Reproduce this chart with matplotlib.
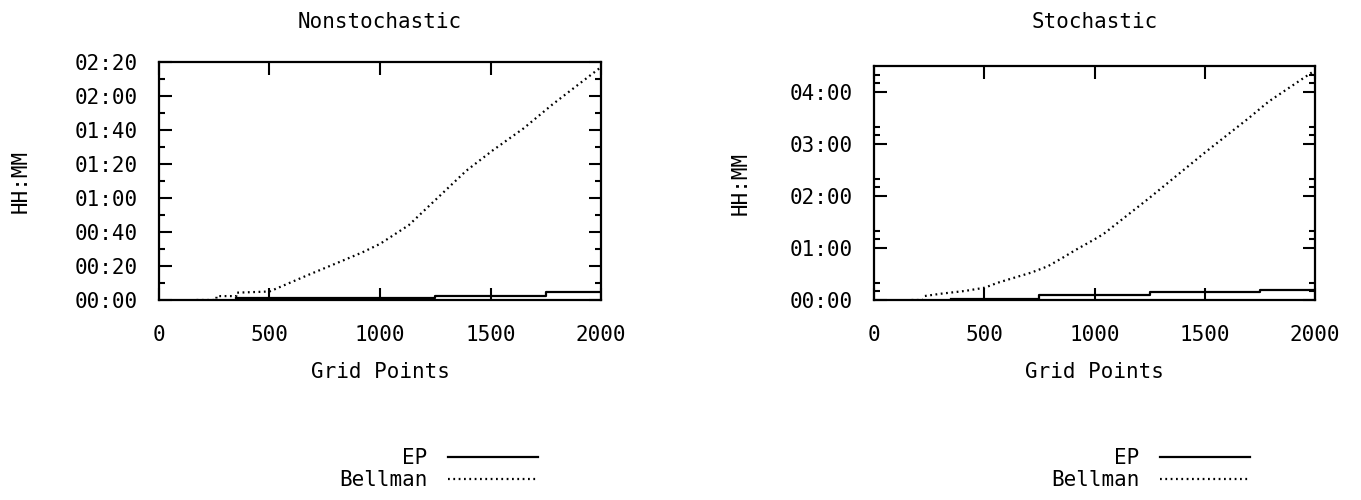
import matplotlib
matplotlib.use("Agg")
import matplotlib.pyplot as plt
from matplotlib.ticker import FixedLocator, FuncFormatter
from matplotlib.lines import Line2D

plt.rcParams['font.family'] = ['DejaVu Sans Mono']
plt.rcParams['font.size'] = 15

# Nonstochastic (minutes)
ns_ep_x = [350, 1250, 1750, 2000]
ns_ep_y = [1, 2.5, 4.5, 4.5]
ns_bell_x = [170, 260, 260, 350, 350, 500, 680, 810, 920, 1000, 1130, 1260, 1390, 1510, 1650, 1780, 2000]
ns_bell_y = [0, 0, 2.3, 2.3, 4.3, 5, 15, 22, 28, 33, 44, 60, 76, 88, 101, 115, 137]

# Stochastic (minutes)
st_ep_x = [350, 750, 1250, 1750, 2000]
st_ep_y = [1.2, 5.4, 9.2, 11.5, 11.5]
st_bell_x = [170, 222, 230, 305, 411, 502, 562, 637, 713, 789, 864, 909, 1000, 1040, 1250, 1500, 1700, 1790, 2000]
st_bell_y = [0, 0, 4.6, 7.3, 10.4, 14.2, 20, 25.8, 31.6, 39, 50, 57, 70, 76, 118, 170, 210, 229, 265]

x_ticks = [0, 500, 1000, 1500, 2000]
ns_yticks = [0, 20, 40, 60, 80, 100, 120, 140]
ns_yminor = [10, 30, 50, 70, 90, 110, 130]
st_yticks = [0, 60, 120, 180, 240]
st_yminor = [10, 20, 70, 80, 130, 140, 190, 200, 250, 260]


def hhmm(v, pos):
    v = int(round(v))
    return "%02d:%02d" % (v // 60, v % 60)


dotted = (0, (0.8, 1.6))

fig = plt.figure(figsize=(13.61, 5), dpi=100)


def panel(rect, title, title_x, ylab_x, ep_x, ep_y, b_x, b_y, ymax, majors, minors, leg_anchor):
    ax = fig.add_axes(rect)
    ax.plot(ep_x, ep_y, color='k', lw=1.6, drawstyle='steps-post')
    ax.plot(b_x, b_y, color='k', lw=1.6, linestyle=dotted)
    ax.set_xlim(0, 2000)
    ax.set_ylim(0, ymax)
    ax.xaxis.set_major_locator(FixedLocator(x_ticks))
    ax.yaxis.set_major_locator(FixedLocator(majors))
    ax.yaxis.set_minor_locator(FixedLocator(minors))
    ax.yaxis.set_major_formatter(FuncFormatter(hhmm))
    ax.tick_params(which='both', direction='in', top=True, right=True, width=1.5, color='k')
    ax.tick_params(which='major', length=9)
    ax.tick_params(which='minor', length=4.5)
    ax.tick_params(axis='x', pad=18)
    ax.tick_params(axis='y', pad=15)
    for s in ax.spines.values():
        s.set_linewidth(1.6)
    fig.text(title_x, 1 - 22 / 500, title, ha='center', va='center')
    ax.set_xlabel('Grid Points', labelpad=12)
    ax.set_ylabel('HH:MM')
    ax.yaxis.set_label_coords(ylab_x, 0.5)
    h = [Line2D([], [], color='k', lw=1.6),
         Line2D([], [], color='k', lw=1.6, linestyle=dotted)]
    fig.legend(h, ['EP', 'Bellman'], loc='center right', bbox_to_anchor=leg_anchor,
               frameon=False, markerfirst=False, handlelength=4.3, handletextpad=1.0,
               labelspacing=0.1, borderaxespad=0, borderpad=0)
    return ax


panel([0.1168, 0.4, 0.3248, 0.476], 'Nonstochastic', 380 / 1361, -0.29,
      ns_ep_x, ns_ep_y, ns_bell_x, ns_bell_y, 140, ns_yticks, ns_yminor,
      (538 / 1361, 1 - 469 / 500))
panel([0.6422, 0.4, 0.3240, 0.468], 'Stochastic', 1095 / 1361, -0.28,
      st_ep_x, st_ep_y, st_bell_x, st_bell_y, 270, st_yticks, st_yminor,
      (1250 / 1361, 1 - 469 / 500))

fig.savefig('out.png', dpi=100)
